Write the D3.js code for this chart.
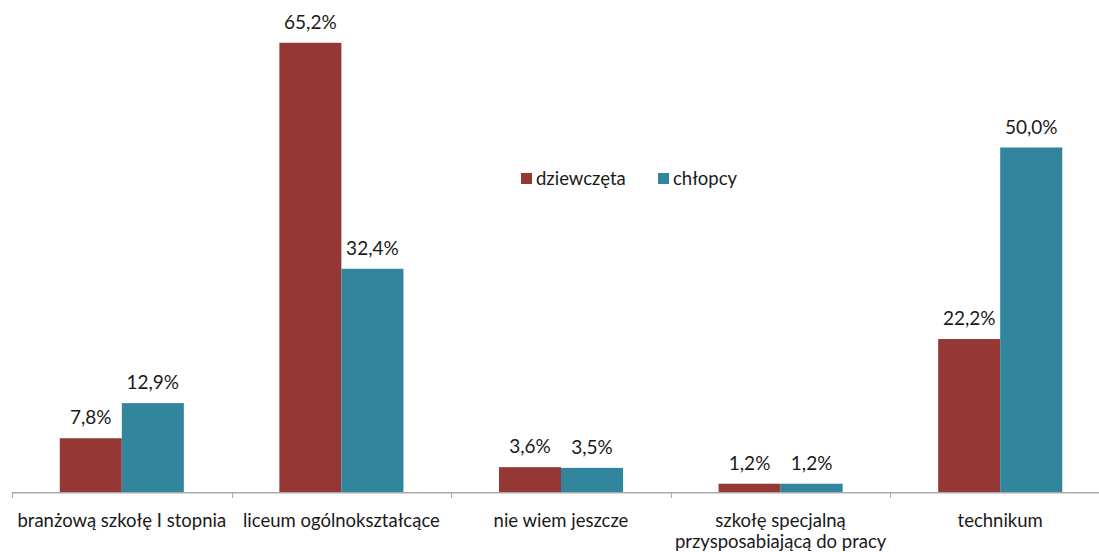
<!DOCTYPE html>
<html>
<head>
<meta charset="utf-8">
<script src="https://cdn.jsdelivr.net/npm/d3@7"></script>
<style>
  body { margin: 0; background: #fff; overflow: hidden; }
  svg { display: block; font-family: Lato, "Open Sans", sans-serif; }
</style>
</head>
<body>
<div class="container"></div>
<script>
const categories = [
    ['branżową szkołę I stopnia'],
    ['liceum ogólnokształcące'],
    ['nie wiem jeszcze'],
    ['szkołę specjalną', 'przysposabiającą do pracy'],
    ['technikum']
];
const seriesNames = ['dziewczęta', 'chłopcy'];
const girls = [7.8, 65.2, 3.6, 1.2, 22.2];
const boys = [12.9, 32.4, 3.5, 1.2, 50.0];
const colors = ['#953735', '#31859c'];

const width = 1099, height = 552;
// the plot runs a little past the right edge of the picture
const left = 12, right = 1110, baseline = 492;

const svg = d3.select('.container').append('svg')
    .attr('width', width)
    .attr('height', height);

const x = d3.scaleBand()
    .domain(d3.range(categories.length))
    .range([left, right]);

const xInner = d3.scaleBand()
    .domain([0, 1])
    .range([0, x.bandwidth()])
    .paddingOuter(0.77);

const y = d3.scaleLinear().domain([0, 70]).range([baseline, baseline - 70 * 6.89]);

const fmt = v => d3.format('.1f')(v).replace('.', ',') + '%';

const data = [girls, boys];

data.forEach((values, s) => {
    const g = svg.append('g');
    g.selectAll('rect')
        .data(values)
        .join('rect')
        .attr('x', (d, i) => x(i) + xInner(s))
        .attr('y', d => y(d))
        .attr('width', xInner.bandwidth())
        .attr('height', d => y(0) - y(d))
        .attr('fill', colors[s]);
    g.selectAll('text')
        .data(values)
        .join('text')
        .attr('x', (d, i) => x(i) + xInner(s) + xInner.bandwidth() / 2)
        .attr('y', d => y(d) - 14)
        .attr('text-anchor', 'middle')
        .attr('font-size', 19)
        .attr('fill', '#1a1a1a')
        .text(fmt);
});

// x axis
const axis = svg.append('g').attr('stroke', '#aaaaaa');
axis.append('line')
    .attr('x1', left).attr('x2', right)
    .attr('y1', baseline + 0.75).attr('y2', baseline + 0.75)
    .attr('stroke-width', 1.5);
axis.selectAll('line.tick')
    .data(d3.range(categories.length))
    .join('line')
    .attr('class', 'tick')
    .attr('x1', i => Math.round(x(i)) + 0.5)
    .attr('x2', i => Math.round(x(i)) + 0.5)
    .attr('y1', baseline).attr('y2', baseline + 6);

svg.append('g').selectAll('text')
    .data(categories)
    .join('text')
    .attr('x', (d, i) => x(i) + x.bandwidth() / 2)
    .attr('y', 527)
    .attr('text-anchor', 'middle')
    .attr('font-size', 18.5)
    .attr('fill', '#1a1a1a')
    .selectAll('tspan')
    .data(d => d)
    .join('tspan')
    .attr('x', function () { return d3.select(this.parentNode).attr('x'); })
    .attr('dy', (d, j) => j === 0 ? 0 : 21)
    .text(d => d);

// legend
const legendX = [521, 658];
const legend = svg.append('g');
seriesNames.forEach((name, s) => {
    legend.append('rect')
        .attr('x', legendX[s]).attr('y', 173)
        .attr('width', 11).attr('height', 11)
        .attr('fill', colors[s]);
    legend.append('text')
        .attr('x', legendX[s] + 15).attr('y', 185)
        .attr('font-size', 18.5)
        .attr('fill', '#1a1a1a')
        .text(name);
});
</script>
</body>
</html>
